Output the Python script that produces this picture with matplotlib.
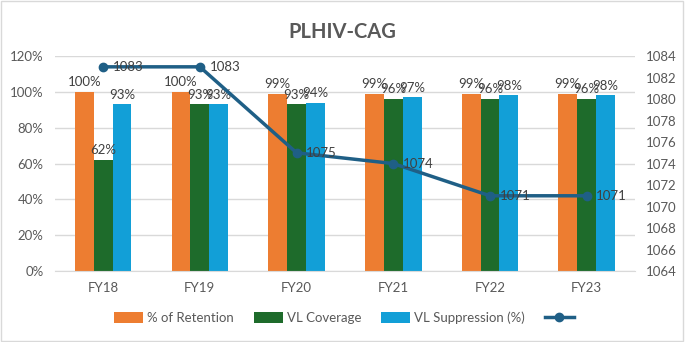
import numpy as np
import matplotlib.pyplot as plt
from matplotlib.patches import Rectangle

plt.rcParams['font.family'] = ['Lato', 'DejaVu Sans']

years = ['FY18', 'FY19', 'FY20', 'FY21', 'FY22', 'FY23']
retention = [100, 100, 99, 99, 99, 99]
coverage = [62, 93, 93, 96, 96, 96]
suppression = [93, 93, 94, 97, 98, 98]
plhiv = [1083, 1083, 1075, 1074, 1071, 1071]

gray = '#595959'
c_ret, c_cov, c_sup, c_line = '#ED7D31', '#1E6B2B', '#129FD7', '#1F5F86'

fig = plt.figure(figsize=(6.85, 3.42), dpi=100)
fig.patches.append(Rectangle((0.002, 0.003), 0.995, 0.993, transform=fig.transFigure,
                             fill=False, edgecolor='#D9D9D9', lw=1))
ax = fig.add_axes([0.080, 0.2076, 0.847, 0.6284])
ax2 = ax.twinx()

x = np.arange(len(years))
w = 0.195
series = [(retention, c_ret, '% of Retention', -w),
          (coverage, c_cov, 'VL Coverage', 0),
          (suppression, c_sup, 'VL Suppression (%)', w)]
handles = []
for vals, col, lab, off in series:
    b = ax.bar(x + off, vals, w, color=col, label=lab, zorder=2)
    handles.append(b)
    for xi, v in zip(x + off, vals):
        ax.text(xi, v + 2, f'{v}%', ha='center', va='bottom', fontsize=9.5, color='#404040', zorder=5)

ln, = ax2.plot(x, plhiv, color=c_line, lw=2.5, marker='o', ms=6, zorder=4)
for xi, v in zip(x, plhiv):
    ax2.text(xi + 0.1, v, f'{v}', ha='left', va='center', fontsize=9.5, color='#404040', zorder=5)
ax2.set_zorder(ax.get_zorder() + 1)
ax2.patch.set_visible(False)

ax.set_xlim(-0.5, len(years) - 0.5)
ax.set_ylim(0, 120)
ax.set_yticks(range(0, 121, 20))
ax.set_yticklabels([f'{t}%' for t in range(0, 121, 20)])
ax2.set_ylim(1064, 1084)
ax2.set_yticks(range(1064, 1085, 2))
ax.set_xticks(x)
ax.set_xticklabels(years)
ax.yaxis.grid(True, color='#D9D9D9', lw=1, zorder=0)
for a in (ax, ax2):
    for s in a.spines.values():
        s.set_visible(False)
    a.tick_params(length=0, labelsize=9.5, colors=gray, pad=8)
ax.spines['bottom'].set_visible(True)
ax.spines['bottom'].set_color('#D9D9D9')

fig.suptitle('PLHIV-CAG', x=0.5, y=0.935, fontsize=14.5, fontweight='bold', color=gray)
fig.legend(handles + [ln], ['% of Retention', 'VL Coverage', 'VL Suppression (%)', ''],
           loc='center', bbox_to_anchor=(0.505, 0.07), ncol=4, frameon=False,
           fontsize=9.5, labelcolor=gray, handlelength=2.2, handleheight=0.9,
           handletextpad=0.3, columnspacing=1.5)

fig.savefig('out.png', dpi=100)
